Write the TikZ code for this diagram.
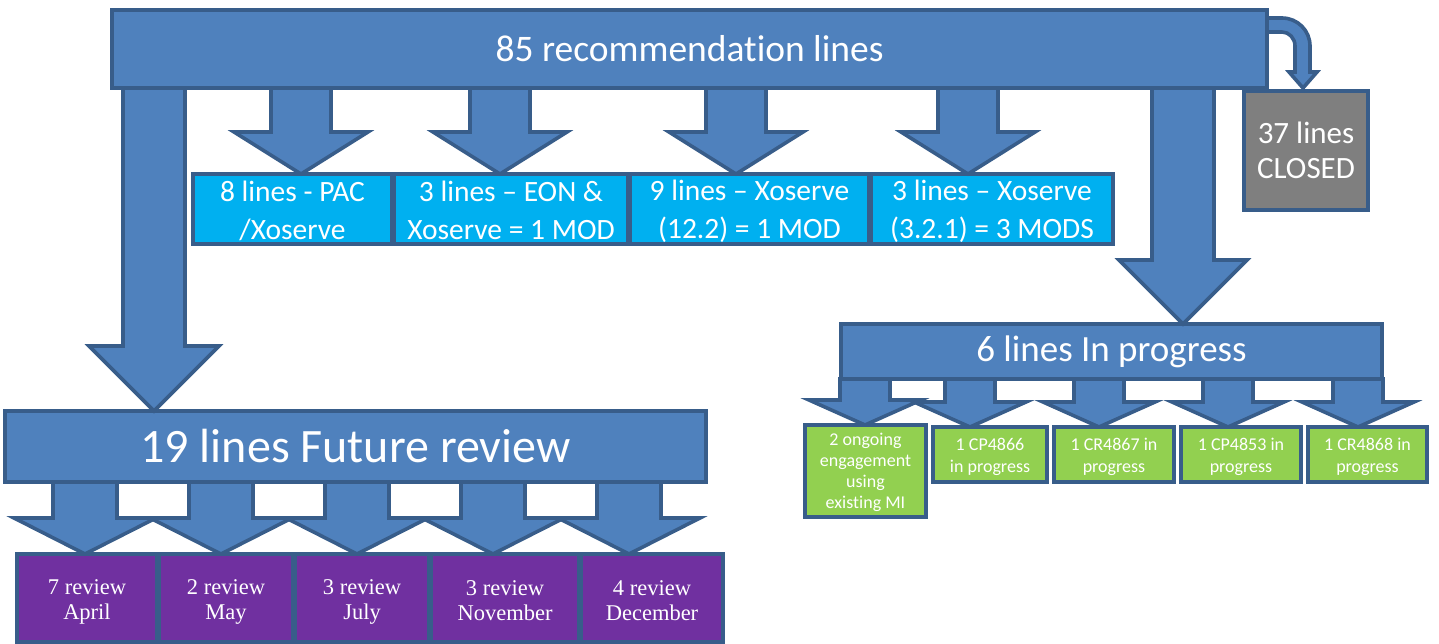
\documentclass[tikz,border=0pt]{standalone}
\usepackage{fontspec}
\setmainfont{Carlito}[Ligatures=CommonOff]
\newfontfamily\reviewfont{Liberation Serif}
\usetikzlibrary{positioning}
\usetikzlibrary{calc}
\definecolor{barblue}{HTML}{4F81BD}
\definecolor{edgeblue}{HTML}{385D8A}
\definecolor{modcyan}{HTML}{00B0F0}
\definecolor{closedgrey}{HTML}{7F7F7F}
\definecolor{progreen}{HTML}{92D050}
\definecolor{reviewpurple}{HTML}{7030A0}

% fixed top and bottom of a text block
\newcommand{\tp}{\rule{0pt}{\padtop}}
\newcommand{\bp}{\rule[-\padbot]{0pt}{\padbot}}

\tikzset{
  box/.style={rectangle, draw=edgeblue, line width=3.6pt, text=white, align=center, inner sep=0pt, outer sep=0pt},
  pads/.style 2 args={/utils/exec={\def\padtop{#1}\def\padbot{#2}}},
  bar/.style={box, fill=barblue},
  modbox/.style={box, fill=modcyan, minimum height=70pt, font=\fontsize{29.5}{38}\selectfont, pads={25.2pt}{2pt}},
  closedbox/.style={box, fill=closedgrey, font=\fontsize{31}{35}\selectfont, pads={24pt}{2pt}},
  progbox/.style={box, fill=progreen, minimum height=55pt, font=\fontsize{18}{22}\selectfont, pads={17pt}{1pt}},
  reviewbox/.style={box, fill=reviewpurple, minimum height=88pt, font=\reviewfont\fontsize{22.5}{25}\selectfont, pads={22pt}{2pt}},
  arrowbody/.style={draw=edgeblue, fill=barblue, line width=3.6pt}
}

% fat arrow: source, target, x, shaft half, head half, head length
\newcommand{\fatarrow}[6]{%
  \draw[arrowbody] let \p1=(#1.south), \p2=(#2.north) in
    (#3pt-#4pt,\y1) -- (#3pt-#4pt,\y2+#6pt) -- (#3pt-#5pt,\y2+#6pt) -- (#3pt,\y2)
    -- (#3pt+#5pt,\y2+#6pt) -- (#3pt+#4pt,\y2+#6pt) -- (#3pt+#4pt,\y1) -- cycle;}

\begin{document}
\begin{tikzpicture}[x=1pt, y=-1pt]
        \useasboundingbox (0,0) rectangle (1439,644);

        % nodes %
        \node[bar, minimum width=1155pt, minimum height=78pt, font=\fontsize{37.5}{44}\selectfont] (top) at (689.5,49) {85 recommendation lines};
        \node[closedbox, minimum width=124pt, minimum height=119pt] (closed) at (1306,150.5) {\tp 37 lines\\CLOSED\bp};

        \node[modbox, minimum width=199pt] (pac) at (292.5,209) {\tp 8 lines - PAC\\/Xoserve\bp};
        \node[modbox, minimum width=234pt, right=2pt of pac] (eon) {\tp 3 lines -- EON \&\\Xoserve = 1 MOD\bp};
        \node[modbox, minimum width=239pt, right=2pt of eon] (xoa) {\tp 9 lines -- Xoserve\\(12.2) = 1 MOD\bp};
        \node[modbox, minimum width=242pt, right=2pt of xoa] (xob) {\tp 3 lines -- Xoserve\\(3.2.1) = 3 MODS\bp};

        \node[bar, minimum width=541pt, minimum height=55pt, font=\fontsize{37}{42}\selectfont] (prog) at (1111.5,351.5) {6 lines In progress};
        \node[progbox, minimum width=121pt, minimum height=92pt, font=\fontsize{18}{21}\selectfont, pads={15.4pt}{1pt}] (gA) at (865.5,471) {\tp 2 ongoing\\engagement\\using\\existing MI\bp};
        \node[progbox, minimum width=114pt, right=7pt of gA.north east, anchor=north west, yshift=-2pt] (gB) {\tp 1 CP4866\\in progress\bp};
        \node[progbox, minimum width=120pt, right=7pt of gB] (gC) {\tp 1 CR4867 in\\progress\bp};
        \node[progbox, minimum width=120pt, right=7pt of gC] (gD) {\tp 1 CP4853 in\\progress\bp};
        \node[progbox, minimum width=119pt, right=7pt of gD] (gE) {\tp 1 CR4868 in\\progress\bp};

        \node[bar, minimum width=701pt, minimum height=71pt, font=\fontsize{48}{54}\selectfont] (future) at (355.5,446.5) {19 lines Future review};
        \node[reviewbox, minimum width=140pt] (rA) at (87,598) {\tp 7 review\\April\bp};
        \node[reviewbox, minimum width=134pt, right=2pt of rA] (rB) {\tp 2 review\\May\bp};
        \node[reviewbox, minimum width=134pt, right=2pt of rB] (rC) {\tp 3 review\\July\bp};
        \node[reviewbox, minimum width=148pt, right=2pt of rC] (rD) {\tp 3 review\\November\bp};
        \node[reviewbox, minimum width=142pt, right=2pt of rD] (rE) {\tp 4 review\\December\bp};

        % edges %
        \fatarrow{top}{future}{154}{31}{65}{65}
        \fatarrow{top}{pac}{301}{30}{67}{42}
        \fatarrow{top}{eon}{500}{30}{67}{42}
        \fatarrow{top}{xoa}{736}{30}{67}{42}
        \fatarrow{top}{xob}{968}{30}{67}{42}
        \fatarrow{top}{prog}{1183}{31}{64}{64}

        \fatarrow{prog}{gA}{865}{25}{56}{25}
        \fatarrow{prog}{gB}{970}{25}{56}{25}
        \fatarrow{prog}{gC}{1099}{25}{56}{25}
        \fatarrow{prog}{gD}{1228}{25}{56}{25}
        \fatarrow{prog}{gE}{1358}{25}{56}{25}

        \fatarrow{future}{rA}{85}{32}{71}{36}
        \fatarrow{future}{rB}{221}{32}{71}{36}
        \fatarrow{future}{rC}{357}{32}{71}{36}
        \fatarrow{future}{rD}{493}{32}{71}{36}
        \fatarrow{future}{rE}{629}{32}{71}{36}

        % bent arrow to closed
        \draw[arrowbody] let \p1=(top.north east), \p2=(closed.north) in
          (\x1,\y1-8pt) -- (\x1+15pt,\y1-8pt)
          .. controls (\x1+30.5pt,\y1-8pt) and (\x1+43pt,\y1-20.5pt) .. (\x1+43pt,\y1-36pt)
          -- (\x1+43pt,\y2+19pt) -- (\x1+50pt,\y2+19pt) -- (\x1+36pt,\y2+3pt)
          -- (\x1+22pt,\y2+19pt) -- (\x1+28pt,\y2+19pt) -- (\x1+28pt,\y1-36pt)
          .. controls (\x1+28pt,\y1-28.3pt) and (\x1+22.2pt,\y1-22pt) .. (\x1+15pt,\y1-22pt)
          -- (\x1,\y1-22pt) -- cycle;
\end{tikzpicture}
\end{document}
